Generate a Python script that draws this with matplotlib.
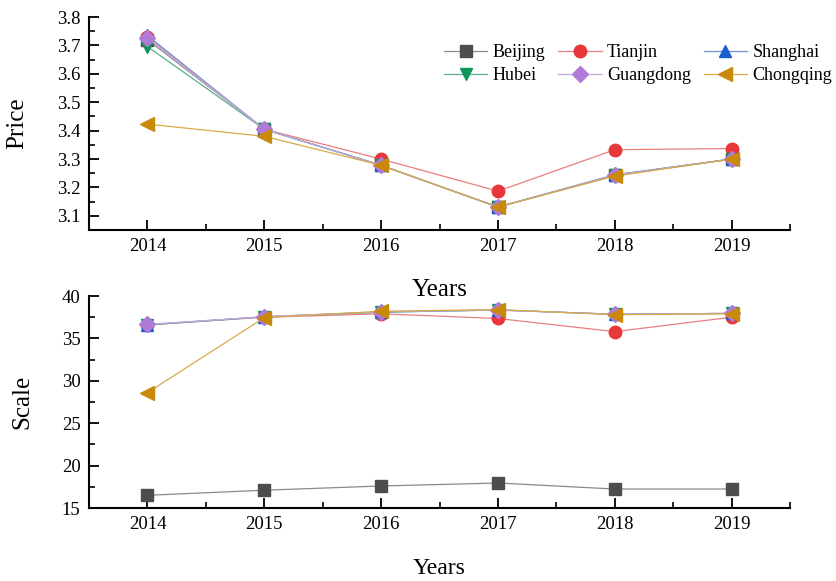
import matplotlib.pyplot as plt
from matplotlib.ticker import MultipleLocator

plt.rcParams['font.family'] = ['Liberation Serif', 'DejaVu Serif']

years = [2014, 2015, 2016, 2017, 2018, 2019]
cities = ['Beijing', 'Tianjin', 'Shanghai', 'Hubei', 'Guangdong', 'Chongqing']

# electricity price by region
price_beijing = [3.72, 3.405, 3.278, 3.131, 3.243, 3.300]
price_tianjin = [3.73, 3.405, 3.300, 3.187, 3.333, 3.337]
price_shanghai = [3.735, 3.405, 3.278, 3.131, 3.245, 3.300]
price_hubei = [3.696, 3.405, 3.278, 3.131, 3.243, 3.300]
price_guangdong = [3.726, 3.405, 3.278, 3.131, 3.243, 3.300]
price_chongqing = [3.423, 3.380, 3.278, 3.131, 3.240, 3.300]

# market scale by region
scale_beijing = [16.5, 17.1, 17.6, 17.95, 17.24, 17.24]
scale_tianjin = [36.6, 37.5, 37.9, 37.35, 35.8, 37.5]
scale_shanghai = [36.6, 37.55, 38.1, 38.35, 37.85, 37.95]
scale_hubei = [36.6, 37.55, 38.1, 38.35, 37.85, 37.95]
scale_guangdong = [36.66, 37.56, 38.15, 38.35, 37.84, 37.96]
scale_chongqing = [28.6, 37.45, 38.2, 38.4, 37.8, 37.9]

price = [price_beijing, price_tianjin, price_shanghai, price_hubei, price_guangdong, price_chongqing]
scale = [scale_beijing, scale_tianjin, scale_shanghai, scale_hubei, scale_guangdong, scale_chongqing]

markers = ['s', 'o', '^', 'v', 'D', '<']
mcolors = ['#4d4d4d', '#e8373a', '#1a5fd0', '#10965a', '#b07bd8', '#c98a0c']
lcolors = ['#8a8a8a', '#e87f7f', '#6f95cf', '#5aae8a', '#c7a6e0', '#d9a94a']
msizes = [8, 9, 9, 9, 8, 10]

fig = plt.figure(figsize=(8.37, 5.81), dpi=100)
ax1 = fig.add_axes([0.1063, 0.604, 0.8377, 0.3667])
ax2 = fig.add_axes([0.1063, 0.1256, 0.8377, 0.3649])
ax2.set_facecolor('none')

for data, ax in [(price, ax1), (scale, ax2)]:
    for i, city in enumerate(cities):
        ax.plot(years, data[i], marker=markers[i], color=lcolors[i], lw=0.9,
                markerfacecolor=mcolors[i], markeredgecolor=mcolors[i],
                markersize=msizes[i], label=city)

ax1.set_ylim(3.05, 3.8)
ax1.yaxis.set_major_locator(MultipleLocator(0.1))
ax1.yaxis.set_minor_locator(MultipleLocator(0.05))
ax2.set_ylim(15, 40)
ax2.yaxis.set_major_locator(MultipleLocator(5))
ax2.yaxis.set_minor_locator(MultipleLocator(2.5))

for ax in (ax1, ax2):
    ax.set_xlim(2013.5, 2019.5)
    ax.set_xticks(years)
    ax.xaxis.set_minor_locator(MultipleLocator(0.5))
    for s in ('top', 'right'):
        ax.spines[s].set_visible(False)
    for s in ('left', 'bottom'):
        ax.spines[s].set_linewidth(1.5)
    ax.tick_params(which='major', direction='in', length=7, width=1.3,
                   labelsize=13.5, pad=6)
    ax.tick_params(which='minor', direction='in', length=4, width=1.2)

ax1.set_ylabel('Price', fontsize=18)
ax1.yaxis.set_label_coords(-0.087, 0.5)
ax1.set_xlabel('Years', fontsize=18, labelpad=17)
ax2.set_ylabel('Scale', fontsize=18)
ax2.yaxis.set_label_coords(-0.08, 0.5)
ax2.set_xlabel('Years', fontsize=17, labelpad=18)

# legend filled row by row: Beijing, Tianjin, Shanghai / Hubei, Guangdong, Chongqing
handles, labels = ax1.get_legend_handles_labels()
order = [0, 3, 1, 4, 2, 5]
ax1.legend([handles[k] for k in order], [labels[k] for k in order],
           ncol=3, frameon=False, fontsize=13, loc='upper right',
           bbox_to_anchor=(1.083, 0.95), handlelength=2.4, columnspacing=0.7,
           labelspacing=0.35, handletextpad=0.3, markerscale=1.0)

fig.savefig('out.png', dpi=100)
